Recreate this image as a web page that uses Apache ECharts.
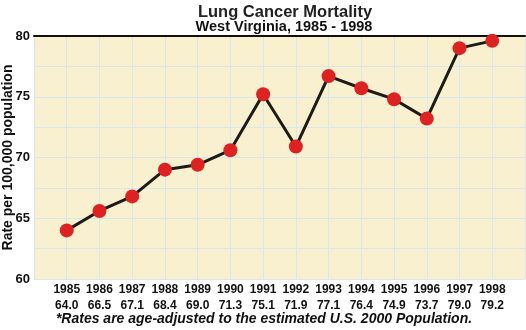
<!DOCTYPE html>
<html>
<head>
<meta charset="utf-8">
<script src="https://cdn.jsdelivr.net/npm/echarts@6/dist/echarts.min.js"></script>
<style>html,body{margin:0;padding:0;background:#fff}#c{width:526px;height:330px}</style>
</head>
<body>
<div id="c"></div>
<script>
var years = [1985,1986,1987,1988,1989,1990,1991,1992,1993,1994,1995,1996,1997,1998];
var plotted = [64.0,65.6,66.8,69.0,69.4,70.6,75.2,70.9,76.7,75.7,74.8,73.2,79.0,79.6];
var rateLabels = ['64.0','66.5','67.1','68.4','69.0','71.3','75.1','71.9','77.1','76.4','74.9','73.7','79.0','79.2'];
var yTicks = [60,65,70,75,80];

var FONT = '"Liberation Sans", Arial, sans-serif';
var chart = echarts.init(document.getElementById('c'));
chart.setOption({
  animation: false,
  title: [
    {text: 'Lung Cancer Mortality', left: 280, textAlign: 'center', top: -1, textStyle: {fontFamily: FONT, fontSize: 16.5, fontWeight: 'bold', color: '#222'}},
    {text: 'West Virginia, 1985 - 1998', left: 279, textAlign: 'center', top: 14, textStyle: {fontFamily: FONT, fontSize: 14.5, fontWeight: 'bold', color: '#111'}},
    {text: '*Rates are age-adjusted to the estimated U.S. 2000 Population.', left: 259, textAlign: 'center', top: 307, textStyle: {fontFamily: FONT, fontSize: 14, fontWeight: 'bold', fontStyle: 'italic', color: '#111'}}
  ],
  grid: {left: 34, right: 1, top: 36, bottom: 51, show: true, backgroundColor: '#F8F0CE', borderWidth: 0, containLabel: false, outerBoundsMode: 'none'},
  xAxis: [
    {type: 'value', min: 1984, max: 1999, interval: 1, position: 'bottom',
      axisLine: {show: false}, axisTick: {show: false},
      splitLine: {show: true, lineStyle: {color: '#D6E8EE', width: 1}},
      axisLabel: {margin: 3, lineHeight: 16, fontFamily: FONT, fontSize: 12, fontWeight: 'bold', color: '#111',
        formatter: function (v) { var i = years.indexOf(v); return i < 0 ? '' : years[i] + '\n' + rateLabels[i]; }}},
    {type: 'value', min: 1984, max: 1999, interval: 1, position: 'top',
      axisLine: {show: true, lineStyle: {color: '#111', width: 2}}, axisTick: {show: false},
      axisLabel: {show: false}, splitLine: {show: false}}
  ],
  yAxis: {type: 'value', min: 60, max: 80, interval: 2.5,
    name: 'Rate per 100,000 population', nameLocation: 'middle', nameGap: 19, nameRotate: 90,
    nameMoveOverlap: false,
    nameTextStyle: {fontFamily: FONT, fontSize: 14, fontWeight: 'bold', color: '#111'},
    axisLine: {show: false}, axisTick: {show: false},
    splitLine: {show: true, lineStyle: {color: '#D6E8EE', width: 1}},
    axisLabel: {margin: 4, fontFamily: FONT, fontSize: 13, fontWeight: 'bold', color: '#111',
      formatter: function (v) { return yTicks.indexOf(v) >= 0 ? String(v) : ''; }}},
  series: [{
    type: 'line', xAxisIndex: 0,
    data: years.map(function (y, i) { return [y, plotted[i]]; }),
    lineStyle: {color: '#1E1A18', width: 3},
    symbol: 'circle', symbolSize: 14,
    itemStyle: {color: '#DD2222', borderWidth: 0},
    z: 3
  }]
});
</script>
</body>
</html>
